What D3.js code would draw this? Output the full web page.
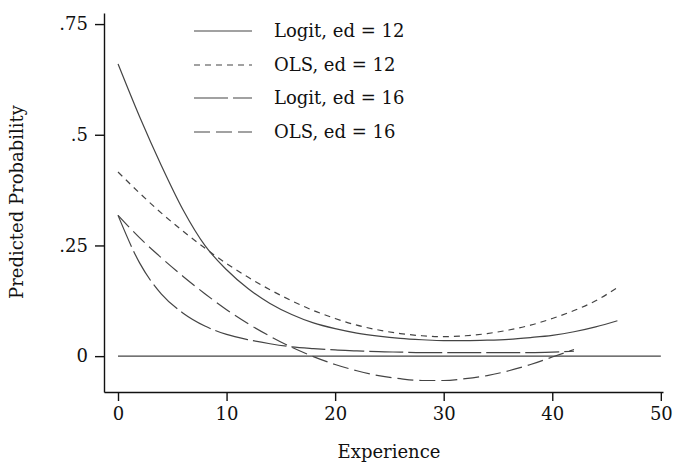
<!DOCTYPE html>
<html>
<head>
<meta charset="utf-8">
<script src="https://cdn.jsdelivr.net/npm/d3@7"></script>
<style>
	body { margin: 0; background: #fff; }
	.chart text { font-family: "DejaVu Serif", "Liberation Serif", serif; fill: #111; }
	.axis path, .axis line { stroke: #111; stroke-width: 1.4; }
</style>
</head>
<body>
<div id="chart"></div>
<script>
// experience values and predicted probabilities
const exp12 = [0, 2, 4, 6, 8, 10, 12, 14, 16, 18, 20, 22, 24, 26, 28, 30, 32, 34, 36, 38, 40, 42, 44, 46];
const logit12 = [0.66, 0.54, 0.43, 0.33, 0.25, 0.195, 0.152, 0.119, 0.094, 0.075, 0.062, 0.052, 0.045, 0.040, 0.037, 0.035, 0.035, 0.036, 0.038, 0.042, 0.047, 0.055, 0.066, 0.080];
const ols12 = [0.416, 0.368, 0.323, 0.282, 0.244, 0.209, 0.178, 0.150, 0.125, 0.103, 0.085, 0.070, 0.059, 0.051, 0.046, 0.044, 0.046, 0.051, 0.059, 0.070, 0.085, 0.103, 0.125, 0.155];

const exp16 = [0, 2, 4, 6, 8, 10, 12, 14, 16, 18, 20, 22, 24, 26, 28, 30, 32, 34, 36, 38, 40, 42];
const logit16 = [0.318, 0.21, 0.14, 0.097, 0.068, 0.049, 0.037, 0.028, 0.021, 0.017, 0.014, 0.012, 0.010, 0.009, 0.008, 0.008, 0.008, 0.008, 0.008, 0.008, 0.009, 0.011];
const ols16 = [0.318, 0.267, 0.222, 0.180, 0.141, 0.105, 0.073, 0.045, 0.020, -0.001, -0.019, -0.033, -0.044, -0.051, -0.055, -0.055, -0.051, -0.044, -0.033, -0.019, -0.002, 0.015];

const zeroLineX = [0, 50];
const zeroLineY = [0, 0];

const xTicks = [0, 10, 20, 30, 40, 50];
const yTicks = [0, 0.25, 0.5, 0.75];
const yTickLabels = ['0', '.25', '.5', '.75'];

const seriesNames = ['Logit, ed = 12', 'OLS, ed = 12', 'Logit, ed = 16', 'OLS, ed = 16'];

const width = 673, height = 463;
const m = { left: 104, right: 10, top: 13, bottom: 71 };

const svg = d3.select('#chart').append('svg')
	.attr('class', 'chart')
	.attr('width', width)
	.attr('height', height);

const x = d3.scaleLinear()
	.domain([-1.29, 50.2])
	.range([m.left, width - m.right]);

const y = d3.scaleLinear()
	.domain([-0.081, 0.775])
	.range([height - m.bottom, m.top]);

//axes
svg.append('g')
	.attr('class', 'x axis')
	.attr('transform', 'translate(0,' + (height - m.bottom) + ')')
	.call(d3.axisBottom(x).tickValues(xTicks).tickSize(9).tickSizeOuter(0).tickPadding(6))
	.selectAll('text')
		.style('font-size', '18px');

svg.append('g')
	.attr('class', 'y axis')
	.attr('transform', 'translate(' + m.left + ',0)')
	.call(d3.axisLeft(y).tickValues(yTicks).tickFormat((d, i) => yTickLabels[i]).tickSize(9).tickSizeOuter(0).tickPadding(7))
	.selectAll('text')
		.style('font-size', '18px');

svg.selectAll('.axis .domain').attr('stroke-width', 1.6);

//axis labels
svg.append('text')
	.attr('x', 389)
	.attr('y', 458)
	.attr('text-anchor', 'middle')
	.style('font-size', '18px')
	.text('Experience');

svg.append('text')
	.attr('transform', 'translate(23,' + 202 + ') rotate(-90)')
	.attr('text-anchor', 'middle')
	.style('font-size', '18px')
	.text('Predicted Probability');

//curves
const series = [
	{ name: seriesNames[0], xs: exp12, ys: logit12, dash: null },
	{ name: seriesNames[1], xs: exp12, ys: ols12, dash: '6,5' },
	{ name: seriesNames[2], xs: exp16, ys: logit16, dash: '34,5' },
	{ name: seriesNames[3], xs: exp16, ys: ols16, dash: '16,6' }
];

const valueLine = d3.line()
	.curve(d3.curveMonotoneX)
	.x(d => x(d[0]))
	.y(d => y(d[1]));

svg.append('path')
	.datum(d3.zip(zeroLineX, zeroLineY))
	.attr('fill', 'none')
	.attr('stroke', '#444')
	.attr('stroke-width', 1.4)
	.attr('d', valueLine);

series.forEach(function(s){
	svg.append('path')
		.datum(d3.zip(s.xs, s.ys))
		.attr('fill', 'none')
		.attr('stroke', '#444')
		.attr('stroke-width', 1.2)
		.attr('stroke-dasharray', s.dash)
		.attr('d', valueLine);
});

//legend
const legend = svg.append('g').attr('class', 'legend');
const rowY = [31, 65, 98, 132];

series.forEach(function(s, i){
	legend.append('line')
		.attr('x1', 194)
		.attr('x2', 252)
		.attr('y1', rowY[i])
		.attr('y2', rowY[i])
		.attr('stroke', '#444')
		.attr('stroke-width', 1.2)
		.attr('stroke-dasharray', s.dash);
	legend.append('text')
		.attr('x', 274)
		.attr('y', rowY[i] + 6)
		.style('font-size', '18px')
		.text(s.name);
});
</script>
</body>
</html>
